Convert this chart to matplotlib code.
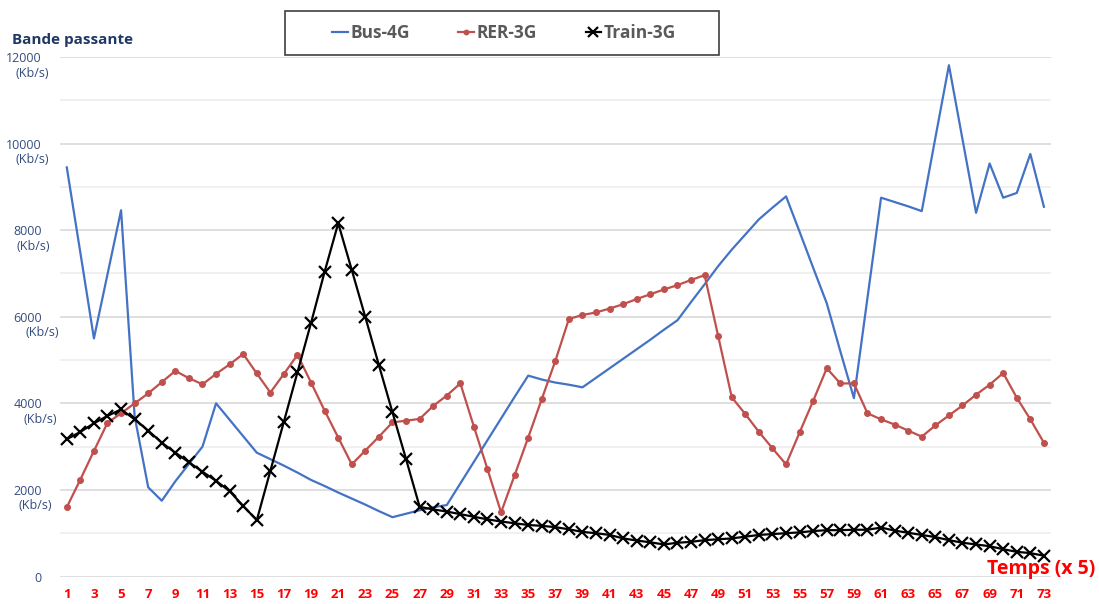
import matplotlib
matplotlib.use("Agg")
import matplotlib.pyplot as plt
from matplotlib.patches import Rectangle
from matplotlib.ticker import MultipleLocator

plt.rcParams["font.family"] = ["Open Sans", "DejaVu Sans"]

# Data (time steps x 5)
temps = list(range(1, 74))

bus_4g = [
    9450, 7480, 5500, 6980, 8460, 3700, 2060, 1750, 2200, 2600,
    3000, 4000, 3620, 3240, 2860, 2710, 2560, 2400, 2230, 2090,
    1940, 1800, 1660, 1510, 1370, 1450, 1530, 1600, 1650, 2150,
    2650, 3150, 3650, 4150, 4640, 4550, 4480, 4430, 4370, 4590,
    4810, 5030, 5250, 5470, 5700, 5920, 6340, 6750, 7170, 7550,
    7900, 8250, 8520, 8780, 7960, 7130, 6310, 5200, 4120, 6440,
    8750, 8650, 8550, 8440, 10130, 11810, 10100, 8400, 9540, 8750,
    8860, 9760, 8540,
]

rer_3g = [
    1600, 2240, 2900, 3550, 3770, 4000, 4230, 4490, 4750, 4580,
    4440, 4680, 4900, 5140, 4690, 4250, 4680, 5120, 4480, 3830,
    3210, 2590, 2910, 3230, 3560, 3600, 3640, 3940, 4180, 4460,
    3460, 2480, 1480, 2340, 3210, 4100, 4980, 5950, 6040, 6100,
    6190, 6290, 6410, 6520, 6630, 6730, 6850, 6960, 5550, 4140,
    3750, 3340, 2960, 2590, 3330, 4060, 4810, 4460, 4460, 3770,
    3630, 3510, 3370, 3230, 3490, 3720, 3950, 4200, 4430, 4700,
    4130, 3630, 3090,
]

train_3g = [
    3170, 3340, 3540, 3710, 3860, 3630, 3370, 3090, 2860, 2640,
    2420, 2210, 1970, 1630, 1300, 2440, 3580, 4720, 5860, 7040,
    8160, 7080, 5990, 4880, 3790, 2710, 1610, 1550, 1500, 1440,
    1380, 1320, 1270, 1230, 1190, 1170, 1140, 1090, 1030, 1000,
    960, 880, 830, 790, 740, 780, 800, 840, 860, 880,
    920, 960, 980, 1000, 1020, 1050, 1070, 1070, 1080, 1080,
    1130, 1060, 1010, 960, 910, 840, 780, 740, 700, 630,
    570, 540, 480,
]

y_ticks = [0, 2000, 4000, 6000, 8000, 10000, 12000]
# horizontal offset (px) of the "(Kb/s)" captions under each y label
unit_x_px = [None, 35, 40, 42, 33, 32, 32]

BLUE = "#4472c4"
RED = "#c0504d"
NAVY = "#344d7e"

fig = plt.figure(figsize=(10.99, 6.04), dpi=100)
ax = fig.add_axes([60 / 1099, 27.5 / 604, 990.7 / 1099, 519.5 / 604])

ax.plot(temps, bus_4g, color=BLUE, linewidth=1.6, label="Bus-4G", zorder=3)
ax.plot(temps, rer_3g, color=RED, linewidth=1.6, marker="o", markersize=4,
        label="RER-3G", zorder=4)
ax.plot(temps, train_3g, color="black", linewidth=1.6, marker="x",
        markersize=9, markeredgewidth=1.6, label="Train-3G", zorder=5)

ax.set_xlim(0.5, 73.5)
ax.set_ylim(0, 12000)

# grid: every 1000, slightly stronger every 2000
ax.yaxis.set_major_locator(MultipleLocator(2000))
ax.yaxis.set_minor_locator(MultipleLocator(1000))
ax.grid(True, axis="y", which="major", color="#d9d9d9", linewidth=1.2)
ax.grid(True, axis="y", which="minor", color="#eeeeee", linewidth=1.2)
ax.set_axisbelow(True)
for spine in ax.spines.values():
    spine.set_visible(False)

ax.set_xticks(temps[::2])
ax.set_xticklabels([str(t) for t in temps[::2]], color="#ff0000",
                   fontweight="bold", fontsize=9.5)
ax.set_yticks(y_ticks)
ax.set_yticklabels([str(v) for v in y_ticks], color=NAVY, fontsize=9)
ax.tick_params(axis="both", which="both", length=0)
ax.tick_params(axis="x", pad=8)
ax.tick_params(axis="y", pad=13)

# "(Kb/s)" captions below each y tick label
for v, xpx in zip(y_ticks, unit_x_px):
    if xpx is None:
        continue
    ypx = 576.5 - v / 1000 * 43.29 + 16
    fig.text(xpx / 1099, 1 - ypx / 604, "(Kb/s)", color=NAVY, fontsize=9,
             ha="center", va="center")

fig.text(12 / 1099, 1 - 40 / 604, "Bande passante", color="#1f3864",
         fontsize=11, fontweight="bold", ha="left", va="center")
fig.text(1095 / 1099, 1 - 569 / 604, "Temps (x 5)", color="#ff0000",
         fontsize=14, fontweight="bold", ha="right", va="center")

# legend box
fig.patches.append(Rectangle((285 / 1099, 1 - 55 / 604), 434 / 1099, 44 / 604,
                             transform=fig.transFigure, fill=False,
                             edgecolor="#404040", linewidth=1.2))
fig.legend(loc="center", bbox_to_anchor=(504 / 1099, 1 - 33 / 604), ncol=3,
           frameon=False, handlelength=0.9, handletextpad=0.15,
           columnspacing=2.8, markerscale=0.8,
           prop={"size": 12.5, "weight": "bold"}, labelcolor="#595959")

fig.savefig("out.png", dpi=100)
